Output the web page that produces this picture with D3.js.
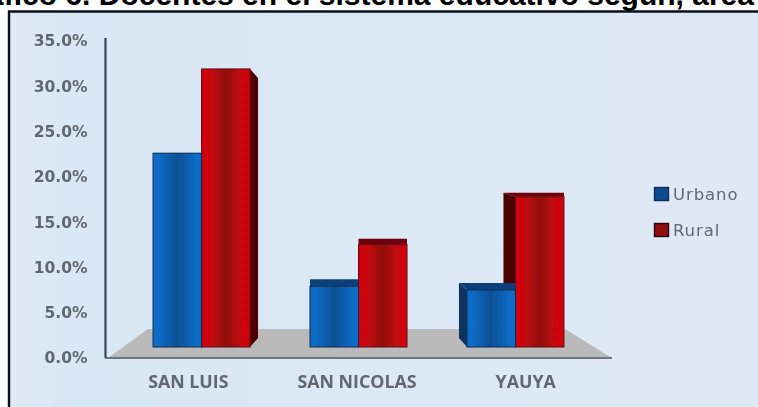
<!DOCTYPE html>
<html><head><meta charset="utf-8">
<script src="https://cdn.jsdelivr.net/npm/d3@7"></script>
<style>
html,body{margin:0;padding:0;background:#fff;overflow:hidden}
svg{display:block}
</style></head><body>
<svg id="c" width="758" height="407"></svg>
<script>
const categories = ["SAN LUIS","SAN NICOLAS","YAUYA"];
const seriesNames = ["Urbano","Rural"];
const urbano = [21.4,6.7,6.3];
const rural = [30.7,11.3,16.6];
const yTicks = [0,5,10,15,20,25,30,35];
const title = "Gráfico 6. Docentes en el sistema educativo según, área";

const svg = d3.select("#c");
const defs = svg.append("defs");
function grad(id,edge,mid){
  const g = defs.append("linearGradient").attr("id",id);
  [[0,edge],[.12,edge],[.5,mid],[.88,edge],[1,edge]].forEach(s=>g.append("stop").attr("offset",s[0]).attr("stop-color",s[1]));
}
grad("gU","#0a6cc6","#0b4f94");
grad("gR","#d00608","#920a0e");
defs.append("filter").attr("id","soft").append("feGaussianBlur").attr("stdDeviation",0.55);
const bg = defs.append("linearGradient").attr("id","panel").attr("x1",0).attr("x2",1);
bg.append("stop").attr("offset",0).attr("stop-color","#e0e9f4");
bg.append("stop").attr("offset",.08).attr("stop-color","#d9e8f6");
bg.append("stop").attr("offset",1).attr("stop-color","#dfe9f5");

svg.append("text").attr("x",-48).attr("y",4.5).attr("font-family","Liberation Sans").attr("font-weight","bold").attr("font-size",30).attr("fill","#000").text(title);

svg.append("rect").attr("x",9).attr("y",12).attr("width",749).attr("height",395).attr("fill","url(#panel)");
svg.append("path").attr("d","M9,407V11.5H758").attr("fill","none").attr("stroke","#08101c").attr("stroke-width",2.4);

const root = svg.append("g").attr("filter","url(#soft)");
const y = d3.scaleLinear().domain([0,35]).range([358,41]);
const xGroup = d3.scaleBand().domain(categories).range([105,612]).paddingInner(.382).paddingOuter(.306);
const xSeries = d3.scaleBand().domain(seriesNames).range([0,xGroup.bandwidth()]);
const xLabel = d3.scaleBand().domain(categories).range([104,610]);

// floor
const baseFront = 347, baseBack = 338, floorBack = 329;
root.append("path").attr("d",`M${xGroup.range()[0]+3},${y(0)}L148,${floorBack}H565L612,${y(0)}Z`).attr("fill","#bababa");
root.append("line").attr("x1",105).attr("x2",612).attr("y1",y(0)).attr("y2",y(0)).attr("stroke","#6f7378").attr("stroke-width",2);

// y axis
const ay = root.append("g").attr("transform","translate(105.5,0)").call(d3.axisLeft(y).tickValues(yTicks).tickSize(0).tickPadding(18).tickFormat(d=>d3.format(".1f")(d)+"%"));
ay.select(".domain").attr("stroke","#34475a").attr("stroke-width",2.2).attr("d","M0,38V358");
ay.selectAll("text").attr("font-family","DejaVu Sans").attr("font-weight","bold").attr("font-size",15.5).attr("fill","#62676f");

// x axis labels
const ax = root.append("g").attr("transform","translate(0,358)").call(d3.axisBottom(xLabel).tickSize(0).tickPadding(17));
ax.select(".domain").remove();
ax.selectAll("text").attr("font-family","Open Sans").attr("font-weight","bold").attr("font-size",17.8).attr("fill","#62676f");

// bars: side depth per group and series (perspective about the chart centre)
const sideDx = [[0,8],[0,0],[-8,-12]];
const topDy = [[0,9],[-7,-6],[-7,-4]];
const colors = {
  Urbano:{face:"url(#gU)",cap:"#0b3f78",side:"#0a335f",line:"#0a2c50"},
  Rural:{face:"url(#gR)",cap:"#6e0308",side:"#4e0006",line:"#5c0a0e"}
};
const scaleH = v => y(0)-y(v);
const rows = [];
categories.forEach((c,i)=>{
  rows.push({c,i,s:"Rural",v:rural[i],k:1});
  rows.push({c,i,s:"Urbano",v:urbano[i],k:0});
});
const g = root.selectAll("g.bar").data(rows).join("g").attr("class","bar");
g.each(function(d){
  const n = d3.select(this), col = colors[d.s];
  const x0 = xGroup(d.c)+xSeries(d.s), w = xSeries.bandwidth(), x1 = x0+w;
  const yt = baseFront-scaleH(d.v), dx = sideDx[d.i][d.k], dt = topDy[d.i][d.k];
  const bd = baseBack-baseFront;
  if(dx>0) n.append("path").attr("d",`M${x1},${yt}L${x1+dx},${yt+dt}V${baseFront+bd}L${x1},${baseFront}Z`).attr("fill",col.side);
  if(dx<0) n.append("path").attr("d",`M${x0},${yt}L${x0+dx},${yt+dt}V${baseFront+bd}L${x0},${baseFront}Z`).attr("fill",col.side);
  if(dt<0) n.append("path").attr("d",`M${x0},${yt}L${x0+Math.min(dx,0)},${yt+dt}H${x1}V${yt}Z`).attr("fill",col.cap);
  n.append("rect").attr("x",x0).attr("y",yt).attr("width",w).attr("height",baseFront-yt).attr("fill",col.face).attr("stroke",col.line).attr("stroke-width",1);
});

// legend
const lg = root.append("g");
const legendY = d3.scalePoint().domain(seriesNames).range([194,230]);
seriesNames.forEach(s=>{
  lg.append("rect").attr("x",654.5).attr("y",legendY(s)-6.5).attr("width",14).attr("height",13).attr("fill",s==="Urbano"?"#0b4c90":"#900a0e").attr("stroke",s==="Urbano"?"#0c2f5a":"#2a0508").attr("stroke-width",1.4);
  lg.append("text").attr("x",673).attr("y",legendY(s)+5.5).attr("font-family","DejaVu Sans").attr("font-size",16.5).attr("letter-spacing",.9).attr("fill","#5f6b78").text(s);
});
</script>
</body></html>
